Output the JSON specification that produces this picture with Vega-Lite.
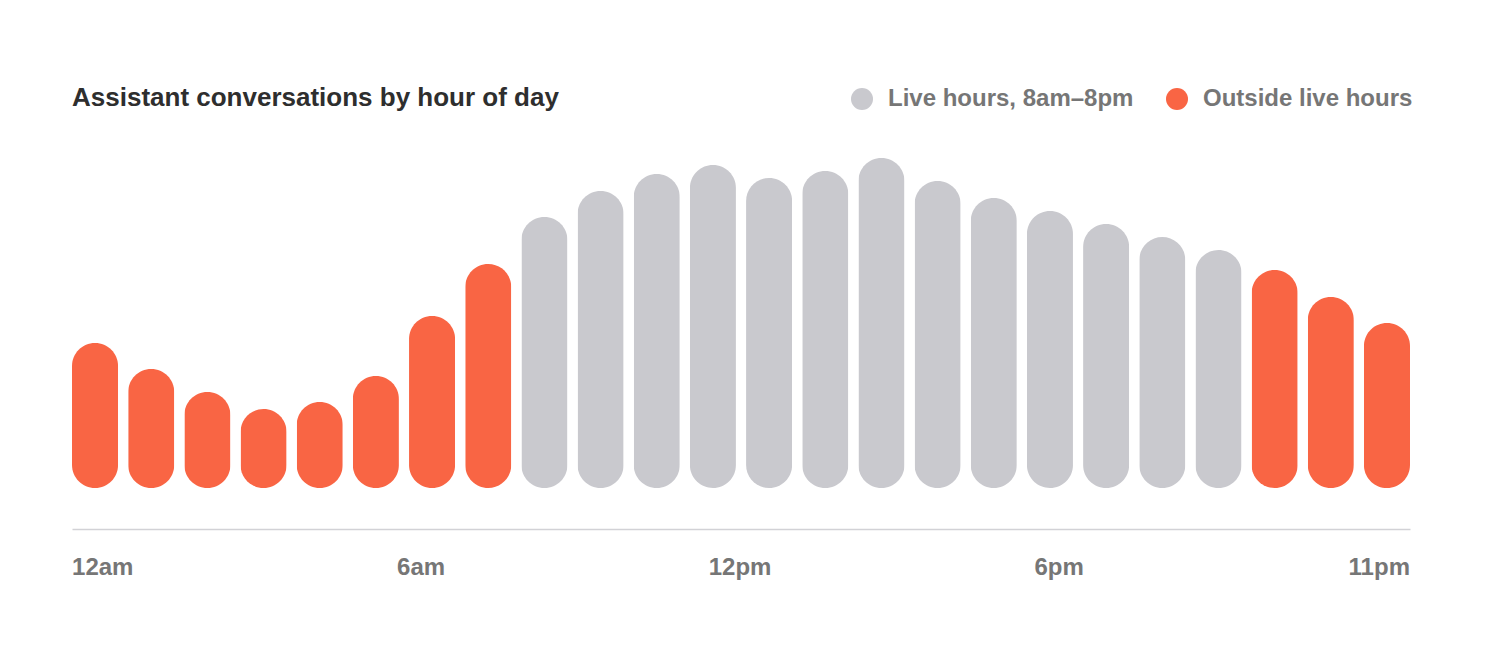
{
  "$schema": "https://vega.github.io/schema/vega-lite/v6.json",
  "description": "Assistant conversations by hour of day",
  "autosize": "none",
  "padding": {"left": 72, "top": 158, "right": 78, "bottom": 162},
  "width": 1338,
  "height": 330,
  "background": "white",
  "title": {
    "text": "Assistant conversations by hour of day",
    "anchor": "start",
    "frame": "group",
    "font": "Liberation Sans",
    "fontSize": 26,
    "fontWeight": "bold",
    "color": "#2e2e2e",
    "baseline": "alphabetic",
    "offset": -45
  },
  "config": {
    "view": {"stroke": null},
    "font": "Liberation Sans"
  },
  "data": {
    "values": [
      {"hour": 0, "conversations": 145, "period": "Outside live hours"},
      {"hour": 1, "conversations": 119, "period": "Outside live hours"},
      {"hour": 2, "conversations": 96, "period": "Outside live hours"},
      {"hour": 3, "conversations": 79, "period": "Outside live hours"},
      {"hour": 4, "conversations": 86, "period": "Outside live hours"},
      {"hour": 5, "conversations": 112, "period": "Outside live hours"},
      {"hour": 6, "conversations": 172, "period": "Outside live hours"},
      {"hour": 7, "conversations": 224, "period": "Outside live hours"},
      {"hour": 8, "conversations": 271, "period": "Live hours, 8am–8pm"},
      {"hour": 9, "conversations": 297, "period": "Live hours, 8am–8pm"},
      {"hour": 10, "conversations": 314, "period": "Live hours, 8am–8pm"},
      {"hour": 11, "conversations": 323, "period": "Live hours, 8am–8pm"},
      {"hour": 12, "conversations": 310, "period": "Live hours, 8am–8pm"},
      {"hour": 13, "conversations": 317, "period": "Live hours, 8am–8pm"},
      {"hour": 14, "conversations": 330, "period": "Live hours, 8am–8pm"},
      {"hour": 15, "conversations": 307, "period": "Live hours, 8am–8pm"},
      {"hour": 16, "conversations": 290, "period": "Live hours, 8am–8pm"},
      {"hour": 17, "conversations": 277, "period": "Live hours, 8am–8pm"},
      {"hour": 18, "conversations": 264, "period": "Live hours, 8am–8pm"},
      {"hour": 19, "conversations": 251, "period": "Live hours, 8am–8pm"},
      {"hour": 20, "conversations": 238, "period": "Live hours, 8am–8pm"},
      {"hour": 21, "conversations": 218, "period": "Outside live hours"},
      {"hour": 22, "conversations": 191, "period": "Outside live hours"},
      {"hour": 23, "conversations": 165, "period": "Outside live hours"}
    ]
  },
  "mark": {"type": "bar", "cornerRadius": 23},
  "encoding": {
    "x": {
      "field": "hour",
      "type": "ordinal",
      "scale": {"paddingInner": 0.18, "paddingOuter": 0},
      "axis": {
        "title": null,
        "values": [0, 6, 12, 18, 23],
        "labelExpr": "datum.value == 0 ? '12am' : datum.value == 6 ? '6am' : datum.value == 12 ? '12pm' : datum.value == 18 ? '6pm' : '11pm'",
        "labelAngle": 0,
        "labelFont": "Liberation Sans",
        "labelFontSize": 24,
        "labelFontWeight": "bold",
        "labelColor": "#767676",
        "labelBaseline": "top",
        "labelPadding": 26,
        "labelAlign": {"expr": "datum.value == 0 ? 'left' : datum.value == 23 ? 'right' : 'center'"},
        "labelOffset": {"expr": "datum.value == 0 ? -23 : datum.value == 6 ? -11 : datum.value == 12 ? -29 : datum.value == 18 ? -47 : 23"},
        "ticks": false,
        "grid": false,
        "offset": 41,
        "domainColor": "#d2d2d6",
        "domainWidth": 1.5
      }
    },
    "y": {
      "field": "conversations",
      "type": "quantitative",
      "scale": {"domain": [0, 330], "nice": false},
      "axis": null
    },
    "color": {
      "field": "period",
      "type": "nominal",
      "scale": {
        "domain": ["Live hours, 8am–8pm", "Outside live hours"],
        "range": ["#c9c9ce", "#f96544"]
      },
      "legend": {
        "title": null,
        "orient": "none",
        "direction": "horizontal",
        "legendX": 778,
        "legendY": -71,
        "padding": 0,
        "symbolType": "circle",
        "symbolSize": 484,
        "symbolStrokeWidth": 0,
        "symbolOpacity": 1,
        "labelFont": "Liberation Sans",
        "labelFontSize": 24,
        "labelFontWeight": "bold",
        "labelColor": "#767676",
        "labelOffset": 14,
        "labelLimit": 0,
        "columnPadding": 31
      }
    }
  }
}
